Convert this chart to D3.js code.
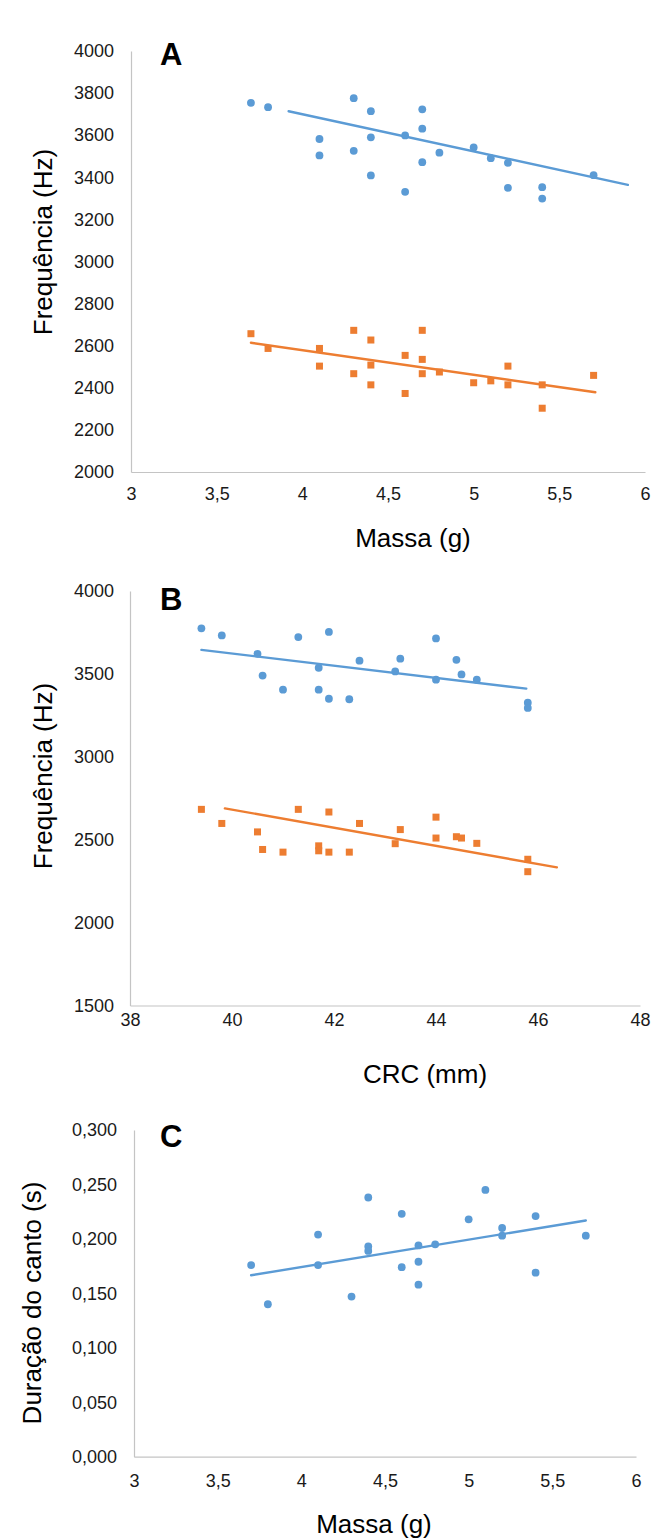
<!DOCTYPE html>
<html lang="pt">
<head>
<meta charset="utf-8">
<title>Frequência e duração do canto x Massa / CRC</title>
<script src="https://cdn.jsdelivr.net/npm/d3@7"></script>
<style>
  html,body{margin:0;background:#fff;}
  svg{display:block;font-family:"Liberation Sans",Arial,sans-serif;}
  .axis text{font-size:18px;fill:#1a1a1a;}
  .axis .domain{stroke:#c4c4c4;stroke-width:1.2;}
  .axis-title{font-size:26px;fill:#000;}
  .panel-tag{font-size:31px;font-weight:700;fill:#000;}
</style>
</head>
<body>
<div id="view"></div>
<script>
/* ===================== DADOS ===================== */
// A: frequência x massa
const massaA   = [3.7,3.8,4.1,4.1,4.3,4.3,4.4,4.4,4.4,4.6,4.6,4.7,4.7,4.7,4.8,5.0,5.1,5.2,5.2,5.4,5.4,5.7];
const freqMaxA = [3754,3733,3582,3504,3776,3526,3714,3590,3409,3599,3331,3723,3631,3472,3517,3542,3491,3469,3350,3353,3299,3410];
const freqMinA = [2657,2587,2587,2503,2673,2467,2627,2508,2414,2554,2373,2673,2535,2467,2475,2424,2433,2503,2414,2414,2303,2459];
const trendMaxA = [[3.92,3714],[5.9,3364]];
const trendMinA = [[3.7,2614],[5.71,2379]];

// B: frequência x CRC
const crcB     = [39.4,39.8,40.5,40.6,41.0,41.3,41.7,41.7,41.9,41.9,42.3,42.5,43.2,43.3,44.0,44.0,44.4,44.5,44.8,45.8,45.8];
const freqMaxB = [3775,3732,3621,3490,3405,3722,3537,3405,3753,3350,3347,3580,3515,3592,3714,3465,3585,3497,3465,3326,3295];
const freqMinB = [2683,2598,2547,2441,2425,2683,2463,2433,2667,2425,2425,2598,2476,2561,2636,2510,2518,2510,2478,2382,2307];
const trendMaxB = [[39.4,3645],[45.77,3411]];
const trendMinB = [[39.86,2689],[46.37,2333]];

// C: duração do canto x massa
const massaC   = [3.7,3.8,4.1,4.1,4.3,4.4,4.4,4.4,4.6,4.6,4.7,4.7,4.7,4.8,5.0,5.1,5.2,5.2,5.4,5.4,5.7];
const duracaoC = [0.176,0.140,0.204,0.176,0.147,0.238,0.193,0.189,0.223,0.174,0.194,0.179,0.158,0.195,0.218,0.245,0.210,0.203,0.221,0.169,0.203];
const trendC   = [[3.7,0.1666],[5.7,0.2169]];

// ticks
const ticksMassa = [3,3.5,4,4.5,5,5.5,6];
const ticksFreqA = [2000,2200,2400,2600,2800,3000,3200,3400,3600,3800,4000];
const ticksCRC   = [38,40,42,44,46,48];
const ticksFreqB = [1500,2000,2500,3000,3500,4000];
const ticksDur   = [0,0.05,0.1,0.15,0.2,0.25,0.3];

/* ===================== FORMATO & CORES ===================== */
const BLUE = "#5b9bd5", ORANGE = "#ed7d31";
const ptBR = d3.formatLocale({decimal:",", thousands:".", grouping:[3], currency:["",""]});
const fmtDec = ptBR.format("~g");
const fmtInt = d3.format("d");
const fmt3   = ptBR.format(".3f");

/* ===================== PAINÉIS ===================== */
const W = 652, H = 1539;
const panels = [
  {
    tag:"A", tagPos:[160,65],
    box:{l:131, r:645, t:51, b:472},
    xDomain:[3,6], yDomain:[2000,4000],
    xTicks:ticksMassa, yTicks:ticksFreqA, xFmt:fmtDec, yFmt:fmtInt,
    padX:15, padY:17,
    xTitle:"Massa (g)", xTitlePos:[413,547],
    yTitle:"Frequência (Hz)", yTitlePos:[52,242],
    series:[
      {xs:massaA, ys:freqMaxA, trend:trendMaxA, color:BLUE,   shape:"circle"},
      {xs:massaA, ys:freqMinA, trend:trendMinA, color:ORANGE, shape:"square"}
    ]
  },
  {
    tag:"B", tagPos:[160,610],
    box:{l:130, r:640, t:591, b:1005.5},
    xDomain:[38,48], yDomain:[1500,4000],
    xTicks:ticksCRC, yTicks:ticksFreqB, xFmt:fmtInt, yFmt:fmtInt,
    padX:8, padY:16,
    xTitle:"CRC (mm)", xTitlePos:[425,1083],
    yTitle:"Frequência (Hz)", yTitlePos:[52,776],
    series:[
      {xs:crcB, ys:freqMaxB, trend:trendMaxB, color:BLUE,   shape:"circle"},
      {xs:crcB, ys:freqMinB, trend:trendMinB, color:ORANGE, shape:"square"}
    ]
  },
  {
    tag:"C", tagPos:[160,1147],
    box:{l:134, r:636, t:1130, b:1456.7},
    xDomain:[3,6], yDomain:[0,0.3],
    xTicks:ticksMassa, yTicks:ticksDur, xFmt:fmtDec, yFmt:fmt3,
    padX:18, padY:17,
    xTitle:"Massa (g)", xTitlePos:[374,1533],
    yTitle:"Duração do canto (s)", yTitlePos:[41,1303],
    series:[
      {xs:massaC, ys:duracaoC, trend:trendC, color:BLUE, shape:"circle"}
    ]
  }
];

/* ===================== DRAW ===================== */
const svg = d3.select("#view").append("svg")
  .attr("width", W).attr("height", H)
  .attr("viewBox", `0 0 ${W} ${H}`);

function drawPanel(p){
  const g = svg.append("g").attr("class","panel");
  const x = d3.scaleLinear().domain(p.xDomain).range([p.box.l, p.box.r]);
  const y = d3.scaleLinear().domain(p.yDomain).range([p.box.b, p.box.t]);

  // eixos: só a linha cinza, sem marcas de tick
  g.append("g").attr("class","axis").attr("transform",`translate(0,${p.box.b})`)
    .call(d3.axisBottom(x).tickValues(p.xTicks).tickFormat(p.xFmt).tickSize(0).tickPadding(p.padX));
  g.append("g").attr("class","axis").attr("transform",`translate(${p.box.l},0)`)
    .call(d3.axisLeft(y).tickValues(p.yTicks).tickFormat(p.yFmt).tickSize(0).tickPadding(p.padY));
  g.selectAll(".axis").attr("font-family", null).attr("font-size", null);

  // pontos + linha de tendência
  p.series.forEach(s => {
    const pts = d3.zip(s.xs, s.ys);
    if(s.shape === "circle"){
      g.selectAll(null).data(pts).join("circle")
        .attr("cx", d => x(d[0])).attr("cy", d => y(d[1]))
        .attr("r", 3.9).attr("fill", s.color);
    } else {
      const sz = 7;
      g.selectAll(null).data(pts).join("rect")
        .attr("x", d => x(d[0]) - sz/2).attr("y", d => y(d[1]) - sz/2)
        .attr("width", sz).attr("height", sz).attr("fill", s.color);
    }
    g.append("path")
      .attr("d", d3.line().x(d => x(d[0])).y(d => y(d[1]))(s.trend))
      .attr("fill","none").attr("stroke", s.color).attr("stroke-width", 2.4)
      .attr("stroke-linecap","round");
  });

  // títulos
  g.append("text").attr("class","axis-title")
    .attr("x", p.xTitlePos[0]).attr("y", p.xTitlePos[1])
    .attr("text-anchor","middle").text(p.xTitle);
  g.append("text").attr("class","axis-title")
    .attr("transform", `translate(${p.yTitlePos[0]},${p.yTitlePos[1]}) rotate(-90)`)
    .attr("text-anchor","middle").text(p.yTitle);
  g.append("text").attr("class","panel-tag")
    .attr("x", p.tagPos[0]).attr("y", p.tagPos[1]).text(p.tag);
}

panels.forEach(drawPanel);
</script>
</body>
</html>
